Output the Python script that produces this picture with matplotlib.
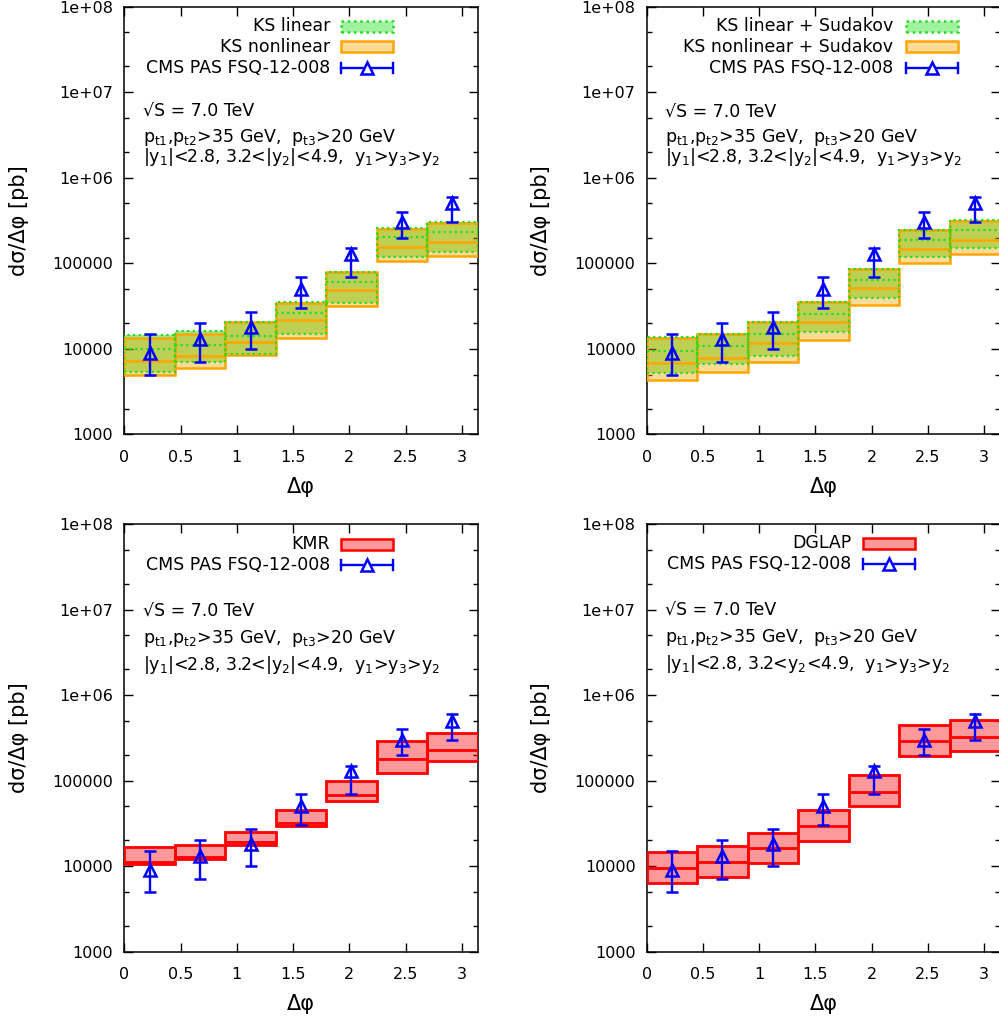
import numpy as np
import matplotlib
matplotlib.use("Agg")
import matplotlib.pyplot as plt
from matplotlib.patches import Rectangle
from matplotlib.lines import Line2D
from matplotlib.ticker import FixedLocator, NullFormatter

plt.rcParams["font.family"] = ["DejaVu Sans"]
plt.rcParams["mathtext.default"] = "regular"

W, H = 999, 1023

# --- data -------------------------------------------------------------
n_bins = 7
cms_val = [9000, 13000, 18000, 50000, 130000, 300000, 500000]
cms_lo = [5000, 7000, 10000, 30000, 70000, 200000, 300000]
cms_hi = [15000, 20000, 27000, 70000, 150000, 400000, 600000]

# KS linear / nonlinear
ksl_lo = [5400, 7100, 8600, 14800, 34200, 119000, 136000]
ksl_mid = [9900, 11100, 14200, 25900, 59700, 201000, 230000]
ksl_hi = [14400, 16200, 20700, 34800, 78200, 256000, 306000]
ksn_lo = [5000, 5900, 8400, 13400, 31800, 105000, 120000]
ksn_mid = [7200, 8300, 11900, 21800, 49000, 153000, 179000]
ksn_hi = [13200, 14800, 20700, 34000, 78000, 251000, 296000]

# KS linear / nonlinear + Sudakov
ksls_lo = [5200, 6700, 8300, 15900, 38800, 117000, 149000]
ksls_mid = [9300, 10800, 14800, 25400, 63500, 188000, 245000]
ksls_hi = [13800, 14800, 20700, 34800, 85500, 247000, 324000]
ksns_lo = [4300, 5400, 7000, 12700, 32400, 99800, 127000]
ksns_mid = [6800, 7900, 11600, 20700, 50800, 147000, 187000]
ksns_hi = [13500, 14800, 20700, 34800, 85500, 247000, 312000]

kmr_lo = [10700, 12200, 17900, 29400, 57500, 124000, 169000]
kmr_mid = [11200, 12700, 19000, 31600, 67600, 177000, 226000]
kmr_hi = [16600, 17600, 24900, 45200, 100400, 290000, 364000]

dglap_lo = [6400, 7500, 10900, 19600, 50200, 194000, 221000]
dglap_mid = [9400, 11200, 16100, 29300, 74000, 290000, 327000]
dglap_hi = [14600, 17400, 24500, 45200, 115000, 443000, 511000]

ytick_vals = [1e3, 1e4, 1e5, 1e6, 1e7, 1e8]
ytick_labels = ["1000", "10000", "100000", "1e+06", "1e+07", "1e+08"]
xtick_vals = [0, 0.5, 1, 1.5, 2, 2.5, 3]
xtick_labels = ["0", "0.5", "1", "1.5", "2", "2.5", "3"]

GREEN_FILL = (148 / 255, 238 / 255, 140 / 255)
GREEN_LINE = "#22dd22"
ORANGE = "#ffa500"
RED = "#ff0000"
BLUE = "#0000ff"
DOT = (0, (1, 1.5))

edges = np.linspace(0, np.pi, n_bins + 1)
centers = 0.5 * (edges[:-1] + edges[1:])
width = edges[1] - edges[0]


def fx(x):
    return x / W


def fy(y):
    return 1 - y / H


def ks_band(ax, lo, mid, hi, kind):
    lo, mid, hi = np.array(lo), np.array(mid), np.array(hi)
    if kind == "green":
        ax.bar(centers, hi - lo, bottom=lo, width=width, color=GREEN_FILL,
               edgecolor="none", zorder=1)
        ax.bar(centers, hi - lo, bottom=lo, width=width, fill=False,
               edgecolor=GREEN_LINE, linestyle=DOT, linewidth=1.6, zorder=4)
        ax.hlines(mid, edges[:-1], edges[1:], colors=GREEN_LINE,
                  linestyles=DOT, linewidth=1.6, zorder=4)
    elif kind == "orange":
        ax.bar(centers, hi - lo, bottom=lo, width=width, color=ORANGE,
               alpha=0.4, edgecolor="none", zorder=2)
        ax.bar(centers, hi - lo, bottom=lo, width=width, fill=False,
               edgecolor=ORANGE, linewidth=1.8, zorder=3)
        ax.hlines(mid, edges[:-1], edges[1:], colors=ORANGE, linewidth=1.8,
                  zorder=3)
    else:
        ax.bar(centers, hi - lo, bottom=lo, width=width, color=RED,
               alpha=0.4, edgecolor="none", zorder=2)
        ax.bar(centers, hi - lo, bottom=lo, width=width, fill=False,
               edgecolor=RED, linewidth=2.0, zorder=3)
        ax.hlines(mid, edges[:-1], edges[1:], colors=RED, linewidth=2.0,
                  zorder=3)


def cms(ax):
    v = np.array(cms_val)
    yerr = [v - np.array(cms_lo), np.array(cms_hi) - v]
    ax.errorbar(centers, v, yerr=yerr, fmt="^", color=BLUE, ms=8.5, mew=1.8,
                mfc="none", elinewidth=1.7, capsize=4, capthick=1.7, zorder=6)


def legend(fig, entries, x_text, x0, x1, rows):
    for (label, kind), yy in zip(entries, rows):
        fig.text(fx(x_text), fy(yy), label, ha="right", va="center",
                 fontsize=12.5)
        if kind == "cms":
            fig.add_artist(Line2D([fx(x0), fx(x1)], [fy(yy), fy(yy)],
                                  color=BLUE, lw=1.7,
                                  transform=fig.transFigure))
            for xe in (x0, x1):
                fig.add_artist(Line2D([fx(xe), fx(xe)], [fy(yy - 5), fy(yy + 5)],
                                      color=BLUE, lw=1.7,
                                      transform=fig.transFigure))
            fig.add_artist(Line2D([fx((x0 + x1) / 2)], [fy(yy)], marker="^",
                                  ms=8.5, mew=1.8, mfc="white", color=BLUE,
                                  transform=fig.transFigure))
            continue
        if kind == "green":
            fc, ec, ls = (160 / 255, 242 / 255, 160 / 255), GREEN_LINE, DOT
        elif kind == "orange":
            fc, ec, ls = (1, 219 / 255, 153 / 255), ORANGE, "-"
        else:
            fc, ec, ls = (1, 153 / 255, 153 / 255), RED, "-"
        fig.add_artist(Rectangle((fx(x0), fy(yy + 5.5)), fx(x1 - x0), 11 / H,
                                 facecolor=fc, edgecolor=ec, linestyle=ls,
                                 lw=1.8, transform=fig.transFigure))


def style(ax):
    ax.set_yscale("log")
    ax.set_xlim(0, np.pi)
    ax.set_ylim(1e3, 1e8)
    ax.set_xticks(xtick_vals)
    ax.set_xticklabels(xtick_labels)
    ax.set_yticks(ytick_vals)
    ax.set_yticklabels(ytick_labels)
    minors = [m * 10 ** e for e in range(3, 8) for m in (2, 5)]
    ax.yaxis.set_minor_locator(FixedLocator(minors))
    ax.yaxis.set_minor_formatter(NullFormatter())
    ax.xaxis.set_minor_locator(FixedLocator([]))
    ax.tick_params(which="both", direction="in", top=True, right=True,
                   labelsize=11.5, width=1)
    ax.tick_params(which="major", length=6.5)
    ax.tick_params(which="minor", length=3.5)
    ax.tick_params(axis="x", pad=11)
    ax.tick_params(axis="y", pad=8)
    for s in ax.spines.values():
        s.set_linewidth(1.1)
    ax.set_xlabel("Δφ", fontsize=15, labelpad=9)
    ax.set_ylabel("dσ/Δφ [pb]", fontsize=15, labelpad=17)


fig = plt.figure(figsize=(W / 100, H / 100), dpi=100)
axw = (477.7 - 124.3) / W
axh = (434.3 - 6.7) / H
ax1 = fig.add_axes([fx(124.3), fy(434.3), axw, axh])
ax2 = fig.add_axes([fx(646.7), fy(434.3), axw, axh])
ax3 = fig.add_axes([fx(124.3), fy(951.7), axw, axh])
ax4 = fig.add_axes([fx(646.7), fy(951.7), axw, axh])

for ax in (ax1, ax2, ax3, ax4):
    style(ax)

ks_band(ax1, ksl_lo, ksl_mid, ksl_hi, "green")
ks_band(ax1, ksn_lo, ksn_mid, ksn_hi, "orange")
cms(ax1)
ks_band(ax2, ksls_lo, ksls_mid, ksls_hi, "green")
ks_band(ax2, ksns_lo, ksns_mid, ksns_hi, "orange")
cms(ax2)
ks_band(ax3, kmr_lo, kmr_mid, kmr_hi, "red")
cms(ax3)
ks_band(ax4, dglap_lo, dglap_mid, dglap_hi, "red")
cms(ax4)

legend(fig, [("KS linear", "green"), ("KS nonlinear", "orange"),
             ("CMS PAS FSQ-12-008", "cms")], 330, 340.7, 393.3,
       [26.2, 46.7, 67.7])
legend(fig, [("KS linear + Sudakov", "green"),
             ("KS nonlinear + Sudakov", "orange"),
             ("CMS PAS FSQ-12-008", "cms")], 893, 905.7, 958.3,
       [26.2, 46.7, 67.7])
legend(fig, [("KMR", "red"), ("CMS PAS FSQ-12-008", "cms")],
       330, 340.7, 393.3, [544.3, 565])
legend(fig, [("DGLAP", "red"), ("CMS PAS FSQ-12-008", "cms")],
       851.7, 862.7, 915, [543.3, 564])

line_s = "√S = 7.0 TeV"
line_p = "p$_{t1}$,p$_{t2}$>35 GeV,  p$_{t3}$>20 GeV"
line_y = "|y$_1$|<2.8, 3.2<|y$_2$|<4.9,  y$_1$>y$_3$>y$_2$"
line_y4 = "|y$_1$|<2.8, 3.2<y$_2$<4.9,  y$_1$>y$_3$>y$_2$"

for x0, ys, ly in [(143.3, (116.7, 141.7, 161.7), line_y),
                   (665, (117.3, 141.7, 161.7), line_y),
                   (143.3, (616.7, 643.3, 670), line_y),
                   (665, (616, 641.7, 669.3), line_y4)]:
    for txt, yy in zip((line_s, line_p, ly), ys):
        fig.text(fx(x0), fy(yy), txt, ha="left", va="baseline", fontsize=12.5)

fig.savefig("out.png", dpi=100)
